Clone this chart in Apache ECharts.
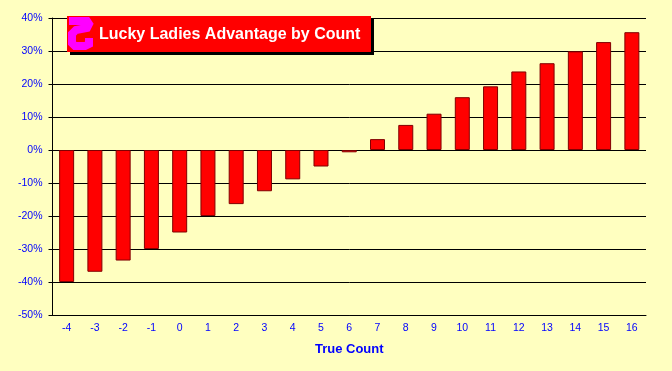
<!DOCTYPE html>
<html><head><meta charset="utf-8">
<style>html,body{margin:0;padding:0;background:#ffffc0}#c{width:672px;height:371px}</style>
<script src="https://cdn.jsdelivr.net/npm/echarts@6/dist/echarts.min.js"></script>
</head><body><div id="c"></div>
<script>
const categories = ['-4','-3','-2','-1','0','1','2','3','4','5','6','7','8','9','10','11','12','13','14','15','16'];
const advantage = [-40,-36.9,-33.5,-30,-25,-20,-16.4,-12.5,-8.9,-5,-0.7,3.3,7.6,11,16,19.3,23.8,26.3,29.9,32.7,35.7];
const chartTitle = 'Lucky Ladies Advantage by Count';
const xTitle = 'True Count';
const FONT = '"Liberation Sans", Arial, sans-serif';
const chart = echarts.init(document.getElementById('c'), null, {renderer:'canvas'});
chart.setOption({
  animation:false,
  backgroundColor:'#ffffc0',
  grid:{left:52.5,right:26,top:18,bottom:56,containLabel:false},
  xAxis:[{
    type:'category',data:categories,position:'bottom',
    name:xTitle,nameLocation:'middle',nameGap:28,
    nameTextStyle:{color:'#0000ff',fontFamily:FONT,fontSize:13,fontWeight:'bold'},
    axisLine:{onZero:false,lineStyle:{color:'#000',width:1}},
    axisTick:{show:false},
    axisLabel:{color:'#0000ff',fontFamily:FONT,fontSize:10.5,margin:8,interval:0},
    splitLine:{show:false}
  }],
  yAxis:{
    type:'value',min:-50,max:40,interval:10,
    axisLine:{show:true,onZero:false,lineStyle:{color:'#000',width:1}},
    axisTick:{show:true,length:4,lineStyle:{color:'#000',width:1}},
    axisLabel:{color:'#0000ff',fontFamily:FONT,fontSize:10.5,margin:10,padding:[3,0,0,0],formatter:'{value}%'},
    splitLine:{show:true,lineStyle:{color:'#000',width:1}}
  },
  series:[{
    type:'bar',data:advantage,barWidth:15,
    itemStyle:{color:'#ff0000',borderColor:'#800000',borderWidth:1}
  }],
  graphic:[
    {type:'rect',z:100,shape:{x:70,y:19,width:304,height:36},style:{fill:'#000'}},
    {type:'rect',z:101,shape:{x:67,y:16,width:304,height:36},style:{fill:'#ff0000'}},
    {type:'polyline',z:102,shape:{points:[[69,21],[87,21],[89,24],[87,28],[76,30],[72,34],[72,43],[75,46],[85,46],[89,44],[89,38]]},style:{stroke:'#ff00ff',fill:null,lineWidth:8}},
    {type:'text',z:103,style:{x:99,y:35,text:chartTitle,fill:'#fff',font:'bold 16px '+FONT,verticalAlign:'middle'}}
  ]
});
</script></body></html>
